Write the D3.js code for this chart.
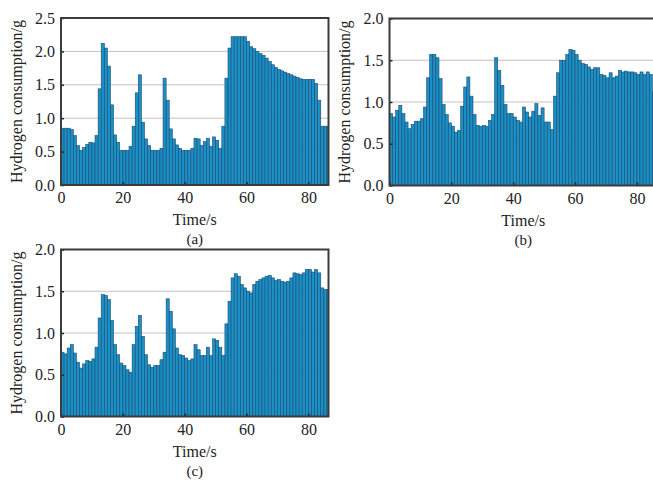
<!DOCTYPE html>
<html>
<head>
<meta charset="utf-8">
<script src="https://cdn.jsdelivr.net/npm/d3@7"></script>
<style>
	body { margin: 0; background: #fff; }
	svg { display: block; }
	text { font-family: "Liberation Serif", "Times New Roman", serif; fill: #222; }
</style>
</head>
<body>
<svg id="chart" width="653" height="481"></svg>
<script>
// hydrogen consumption per second (g), one bar per second
const consumptionA = [
	0.85, 0.85, 0.85, 0.83, 0.74, 0.59, 0.52, 0.56, 0.61, 0.64,
	0.63, 0.74, 1.44, 2.12, 2.05, 1.78, 1.20, 0.75, 0.64, 0.52,
	0.52, 0.52, 0.58, 0.88, 1.38, 1.65, 0.94, 0.69, 0.59, 0.52,
	0.52, 0.52, 0.55, 1.60, 1.27, 0.84, 0.69, 0.60, 0.55, 0.52,
	0.52, 0.52, 0.55, 0.70, 0.69, 0.59, 0.65, 0.70, 0.58, 0.72,
	0.67, 0.55, 0.88, 1.60, 2.05, 2.22, 2.22, 2.22, 2.22, 2.22,
	2.15, 2.07, 2.04, 2.00, 1.97, 1.94, 1.90, 1.85, 1.80, 1.76,
	1.73, 1.71, 1.69, 1.67, 1.65, 1.63, 1.61, 1.59, 1.58, 1.58,
	1.58, 1.58, 1.52, 1.27, 0.88, 0.88, 0.88
];
const consumptionB = [
	0.86, 0.82, 0.90, 0.96, 0.86, 0.76, 0.68, 0.73, 0.77, 0.77,
	0.80, 0.94, 1.29, 1.57, 1.57, 1.53, 1.28, 0.97, 0.85, 0.75,
	0.71, 0.64, 0.66, 0.95, 1.18, 1.30, 1.07, 0.85, 0.72, 0.71,
	0.72, 0.71, 0.78, 0.85, 1.53, 1.38, 1.20, 0.97, 0.86, 0.86,
	0.82, 0.78, 0.76, 0.94, 0.88, 0.82, 0.89, 0.98, 0.84, 0.93,
	0.76, 0.76, 0.67, 1.07, 1.35, 1.50, 1.50, 1.57, 1.63, 1.62,
	1.57, 1.50, 1.46, 1.45, 1.42, 1.39, 1.41, 1.41, 1.33, 1.32,
	1.29, 1.35, 1.29, 1.31, 1.38, 1.36, 1.37, 1.36, 1.36, 1.35,
	1.33, 1.36, 1.33, 1.36, 1.33, 1.12, 1.12
];
const consumptionC = [
	0.77, 0.75, 0.82, 0.86, 0.76, 0.65, 0.58, 0.63, 0.67, 0.66,
	0.69, 0.83, 1.18, 1.46, 1.45, 1.40, 1.15, 0.86, 0.74, 0.64,
	0.61, 0.56, 0.53, 0.86, 1.08, 1.21, 0.96, 0.74, 0.62, 0.59,
	0.61, 0.61, 0.68, 0.77, 1.41, 1.26, 1.05, 0.82, 0.74, 0.73,
	0.70, 0.67, 0.69, 0.86, 0.80, 0.73, 0.73, 0.83, 0.73, 0.93,
	0.91, 0.83, 0.73, 1.11, 1.38, 1.66, 1.71, 1.68, 1.58, 1.54,
	1.50, 1.48, 1.58, 1.62, 1.64, 1.66, 1.68, 1.69, 1.66, 1.63,
	1.64, 1.62, 1.61, 1.62, 1.66, 1.72, 1.71, 1.70, 1.72, 1.76,
	1.76, 1.73, 1.76, 1.72, 1.54, 1.52, 1.52
];
const xTicks = [0, 20, 40, 60, 80];
const yTicksA = [0, 0.5, 1.0, 1.5, 2.0, 2.5];
const yTicksBC = [0, 0.5, 1.0, 1.5, 2.0];
const panelLabels = ["(a)", "(b)", "(c)"];
const xTitle = "Time/s";
const yTitle = "Hydrogen consumption/g";

const W = 267.5;
const H = 167;
const X_MAX = 86.5;

const panels = [
	{ values: consumptionA, yTicks: yTicksA, left: 61, top: 18, label: panelLabels[0] },
	{ values: consumptionB, yTicks: yTicksBC, left: 389.5, top: 18.5, label: panelLabels[1] },
	{ values: consumptionC, yTicks: yTicksBC, left: 61, top: 249.5, label: panelLabels[2] },
];

const svg = d3.select("#chart");
const defs = svg.append("defs");

panels.forEach((p, k) => {
	const x = d3.scaleLinear().domain([0, X_MAX]).range([0, W]);
	const y = d3.scaleLinear().domain([0, d3.max(p.yTicks)]).range([H, 0]);

	const g = svg.append("g").attr("transform", `translate(${p.left},${p.top})`);

	defs.append("clipPath")
		.attr("id", `clip-${k}`)
		.append("rect")
		.attr("width", W)
		.attr("height", H);

	// grid behind bars
	g.append("g")
		.selectAll("line")
		.data(p.yTicks.filter((t) => t > 0 && t < d3.max(p.yTicks)))
		.enter()
		.append("line")
		.attr("x1", 0)
		.attr("x2", W)
		.attr("y1", (d) => y(d))
		.attr("y2", (d) => y(d))
		.style("stroke", "#cdbfbf")
		.style("stroke-width", "1px");

	g.append("g")
		.attr("clip-path", `url(#clip-${k})`)
		.selectAll("rect")
		.data(p.values)
		.enter()
		.append("rect")
		.attr("x", (d, i) => x(i))
		.attr("width", (d, i) => x(i + 1) - x(i))
		.attr("y", (d) => y(d))
		.attr("height", (d) => H - y(d))
		.style("fill", "#1a90c8")
		.style("stroke", "#1d4a6b")
		.style("stroke-width", "0.6px");

	const xAxis = g.append("g")
		.attr("transform", `translate(0,${H})`)
		.call(d3.axisBottom(x).tickValues(xTicks).tickSize(-3).tickPadding(7));
	const yAxis = g.append("g")
		.call(d3.axisLeft(y).tickValues(p.yTicks).tickFormat(d3.format(".1f")).tickSize(-3).tickPadding(6));

	[xAxis, yAxis].forEach((a) => {
		a.select(".domain").remove();
		a.selectAll("line").style("stroke", "#222").style("stroke-width", "1.5px");
		a.selectAll("text").style("font-size", "16px").style("fill", "#222");
	});

	g.append("rect")
		.attr("width", W)
		.attr("height", H)
		.style("fill", "none")
		.style("stroke", "#3b3b3b")
		.style("stroke-width", "2px");

	g.append("text")
		.attr("x", W / 2)
		.attr("y", H + 40)
		.attr("text-anchor", "middle")
		.style("font-size", "16px")
		.text(xTitle);

	g.append("text")
		.attr("x", W / 2)
		.attr("y", H + 59)
		.attr("text-anchor", "middle")
		.style("font-size", "15px")
		.text(p.label);

	g.append("text")
		.attr("transform", `translate(-45,${H / 2}) rotate(-90)`)
		.attr("text-anchor", "middle")
		.attr("dy", "0.35em")
		.style("font-size", "16px")
		.text(yTitle);
});
</script>
</body>
</html>
